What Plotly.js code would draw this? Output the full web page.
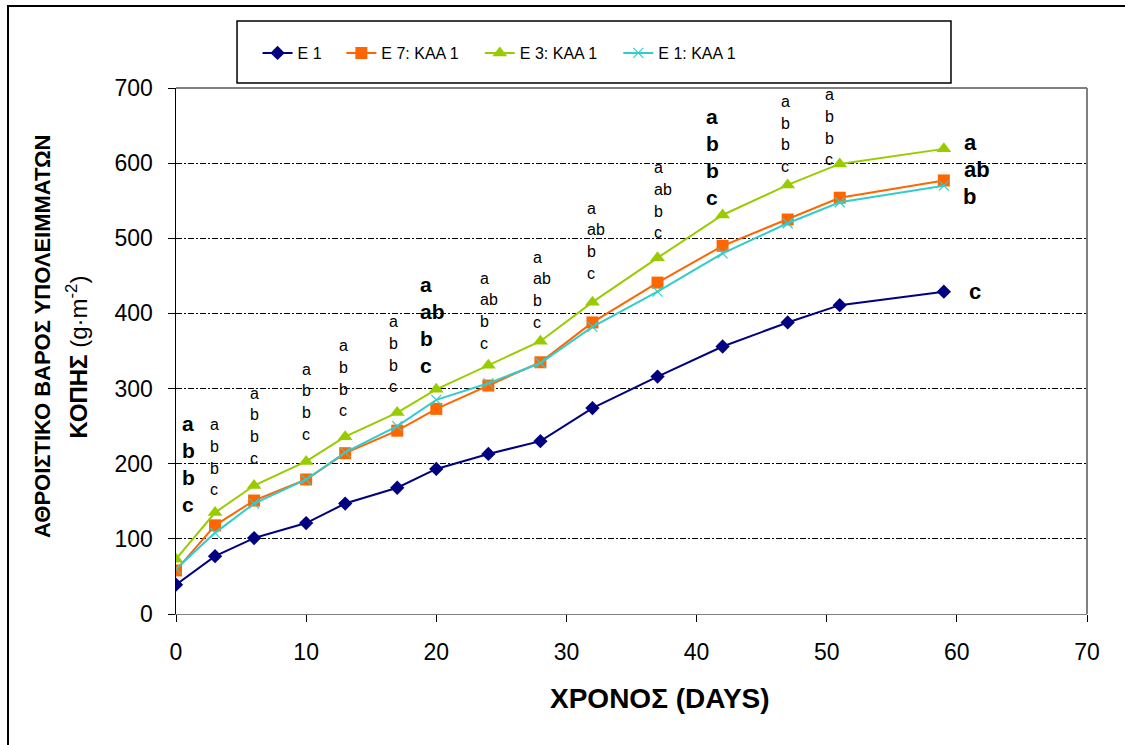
<!DOCTYPE html>
<html>
<head>
<meta charset="utf-8">
<script src="https://cdn.plot.ly/plotly-3.0.1.min.js"></script>
<style>
html,body{margin:0;padding:0;background:#fff;}
#chart{width:1125px;height:745px;}
</style>
</head>
<body>
<div id="chart"></div>
<script>
// ---- data ----
const days = [0, 3, 6, 10, 13, 17, 20, 24, 28, 32, 37, 42, 47, 51, 59];
const e1 = [39, 77, 101, 121, 147, 168, 193, 213, 230, 274, 316, 356, 388, 411, 429];
const e7kaa1 = [58, 118, 151, 179, 214, 244, 273, 304, 335, 388, 441, 490, 525, 554, 577];
const e3kaa1 = [73, 135, 171, 203, 236, 268, 299, 331, 363, 415, 474, 531, 571, 599, 619];
const e1kaa1 = [60, 108, 147, 179, 215, 250, 285, 307, 334, 382, 429, 480, 520, 548, 570];
const seriesNames = ['Ε 1', 'Ε 7: ΚΑΑ 1', 'Ε 3: ΚΑΑ 1', 'Ε 1: ΚΑΑ 1'];

// significance letters per sampling column
const sigLetters = [
  ['a','b','b','c'], ['a','b','b','c'], ['a','b','b','c'], ['a','b','b','c'],
  ['a','b','b','c'], ['a','b','b','c'], ['a','ab','b','c'], ['a','ab','b','c'],
  ['a','ab','b','c'], ['a','ab','b','c'], ['a','ab','b','c'], ['a','b','b','c'],
  ['a','b','b','c'], ['a','b','b','c']
];
const sigBold = [true,false,false,false,false,false,true,false,false,false,false,true,false,false];
// final-day letters, one per series (E3:KAA1, E7:KAA1, E1:KAA1, E1)
const finalLetters = ['a', 'ab', 'b', 'c'];

// ---- placement of the letter columns (days, value of top letter) ----
const sigPlaceX = [0.3, 2.45, 5.5, 9.5, 12.35, 16.2, 18.6, 23.2, 27.3, 31.4, 36.6, 40.6, 46.35, 49.75];
const sigPlaceY = [254, 252, 294, 326, 357, 389, 439, 447, 475, 540, 594, 662, 682, 691];
const finalPlaceX = [60.4, 60.4, 60.3, 60.8];
const finalPlaceY = [627, 591, 556, 429];

const FONT = 'Liberation Sans, Arial, sans-serif';

const traces = [
  {x: days, y: e1, name: seriesNames[0], legend: 'legend',
   mode: 'lines+markers', line: {color: '#000080', width: 2},
   marker: {symbol: 'diamond', size: 11, color: '#000080'}},
  {x: days, y: e7kaa1, name: seriesNames[1], legend: 'legend2',
   mode: 'lines+markers', line: {color: '#FF6600', width: 2},
   marker: {symbol: 'square', size: 12, color: '#FF6600'}},
  {x: days, y: e3kaa1, name: seriesNames[2], legend: 'legend3',
   mode: 'lines+markers', line: {color: '#99CC00', width: 2},
   marker: {symbol: 'triangle-up', size: 13, color: '#99CC00'}},
  {x: days, y: e1kaa1, name: seriesNames[3], legend: 'legend4',
   mode: 'lines+markers', line: {color: '#33CCCC', width: 2},
   marker: {symbol: 'x-thin-open', size: 10, color: '#33CCCC', line: {color: '#33CCCC', width: 1.2}}}
];

const annotations = [];
sigLetters.forEach((col, gi) => {
  const bold = sigBold[gi];
  const step = bold ? 27 : 21.7;
  col.forEach((t, li) => {
    annotations.push({
      x: sigPlaceX[gi], y: sigPlaceY[gi], xref: 'x', yref: 'y',
      text: bold ? '<b>' + t + '</b>' : t, showarrow: false,
      xanchor: 'left', yanchor: 'middle', yshift: -li * step,
      font: {family: FONT, size: bold ? 21 : 16, color: '#000'}
    });
  });
});
finalLetters.forEach((t, i) => {
  annotations.push({
    x: finalPlaceX[i], y: finalPlaceY[i], xref: 'x', yref: 'y',
    text: '<b>' + t + '</b>', showarrow: false, xanchor: 'left', yanchor: 'middle',
    font: {family: FONT, size: 22, color: '#000'}
  });
});
// axis titles
annotations.push({
  xref: 'paper', yref: 'paper', x: 0, y: 0.5, xshift: -133.5, yshift: 14.5,
  xanchor: 'center', yanchor: 'middle', textangle: -90, showarrow: false,
  text: '<b>ΑΘΡΟΙΣΤΙΚΟ ΒΑΡΟΣ ΥΠΟΛΕΙΜΜΑΤΩΝ</b>',
  font: {family: FONT, size: 22, color: '#000'}
});
annotations.push({
  xref: 'paper', yref: 'paper', x: 0, y: 0.5, xshift: -100, yshift: -6.5,
  xanchor: 'center', yanchor: 'middle', textangle: -90, showarrow: false,
  text: '<b>ΚΟΠΗΣ</b> (g·m<sup>-2</sup>)',
  font: {family: FONT, size: 24, color: '#000'}
});
annotations.push({
  xref: 'paper', yref: 'paper', x: 0.5, y: 0, xshift: 28.5, yshift: -84,
  xanchor: 'center', yanchor: 'middle', showarrow: false,
  text: '<b>ΧΡΟΝΟΣ (DAYS)</b>',
  font: {family: FONT, size: 28, color: '#000'}
});

const legendBase = {orientation: 'h', y: 1.0665, yanchor: 'middle', xanchor: 'left',
  bgcolor: 'rgba(0,0,0,0)', borderwidth: 0, font: {family: FONT, size: 16, color: '#000'}};

const layout = {
  width: 1125, height: 745,
  margin: {l: 176, r: 38, t: 88, b: 131, pad: 0},
  paper_bgcolor: '#ffffff', plot_bgcolor: '#ffffff',
  font: {family: FONT, color: '#000'},
  showlegend: true,
  legend: Object.assign({}, legendBase, {x: 0.0895}),
  legend2: Object.assign({}, legendBase, {x: 0.1815}),
  legend3: Object.assign({}, legendBase, {x: 0.3335}),
  legend4: Object.assign({}, legendBase, {x: 0.4855}),
  xaxis: {
    range: [0, 70], tick0: 0, dtick: 10, showgrid: false, zeroline: false,
    showline: true, linecolor: '#808080', linewidth: 1,
    ticks: 'outside', ticklen: 7, tickcolor: '#000', tickwidth: 1,
    tickfont: {family: FONT, size: 23, color: '#000'}, ticklabelstandoff: 10
  },
  yaxis: {
    range: [0, 700], tick0: 0, dtick: 100, showgrid: true, gridcolor: '#000', gridwidth: 1.2,
    griddash: '6px,2px,2px,2px', zeroline: false,
    showline: true, linecolor: '#000', linewidth: 1.5,
    ticks: 'outside', ticklen: 7, tickcolor: '#000', tickwidth: 1,
    tickfont: {family: FONT, size: 23, color: '#000'}, ticklabelstandoff: 10
  },
  shapes: [
    {type: 'line', xref: 'paper', yref: 'paper', x0: 0, x1: 1, y0: 1, y1: 1, line: {color: '#808080', width: 2}},
    {type: 'line', xref: 'paper', yref: 'paper', x0: 1, x1: 1, y0: 0, y1: 1, line: {color: '#808080', width: 2}},
    {type: 'rect', xref: 'paper', yref: 'paper', x0: 0.067, x1: 0.8507, y0: 1.0095, y1: 1.1274, line: {color: '#000', width: 1.5}},
    {type: 'rect', xref: 'paper', yref: 'paper', x0: -0.1844, x1: 1.06, y0: -0.3, y1: 1.1559, line: {color: '#000', width: 2}}
  ],
  annotations: annotations
};

Plotly.newPlot('chart', traces, layout, {displayModeBar: false, staticPlot: true});
</script>
</body>
</html>
